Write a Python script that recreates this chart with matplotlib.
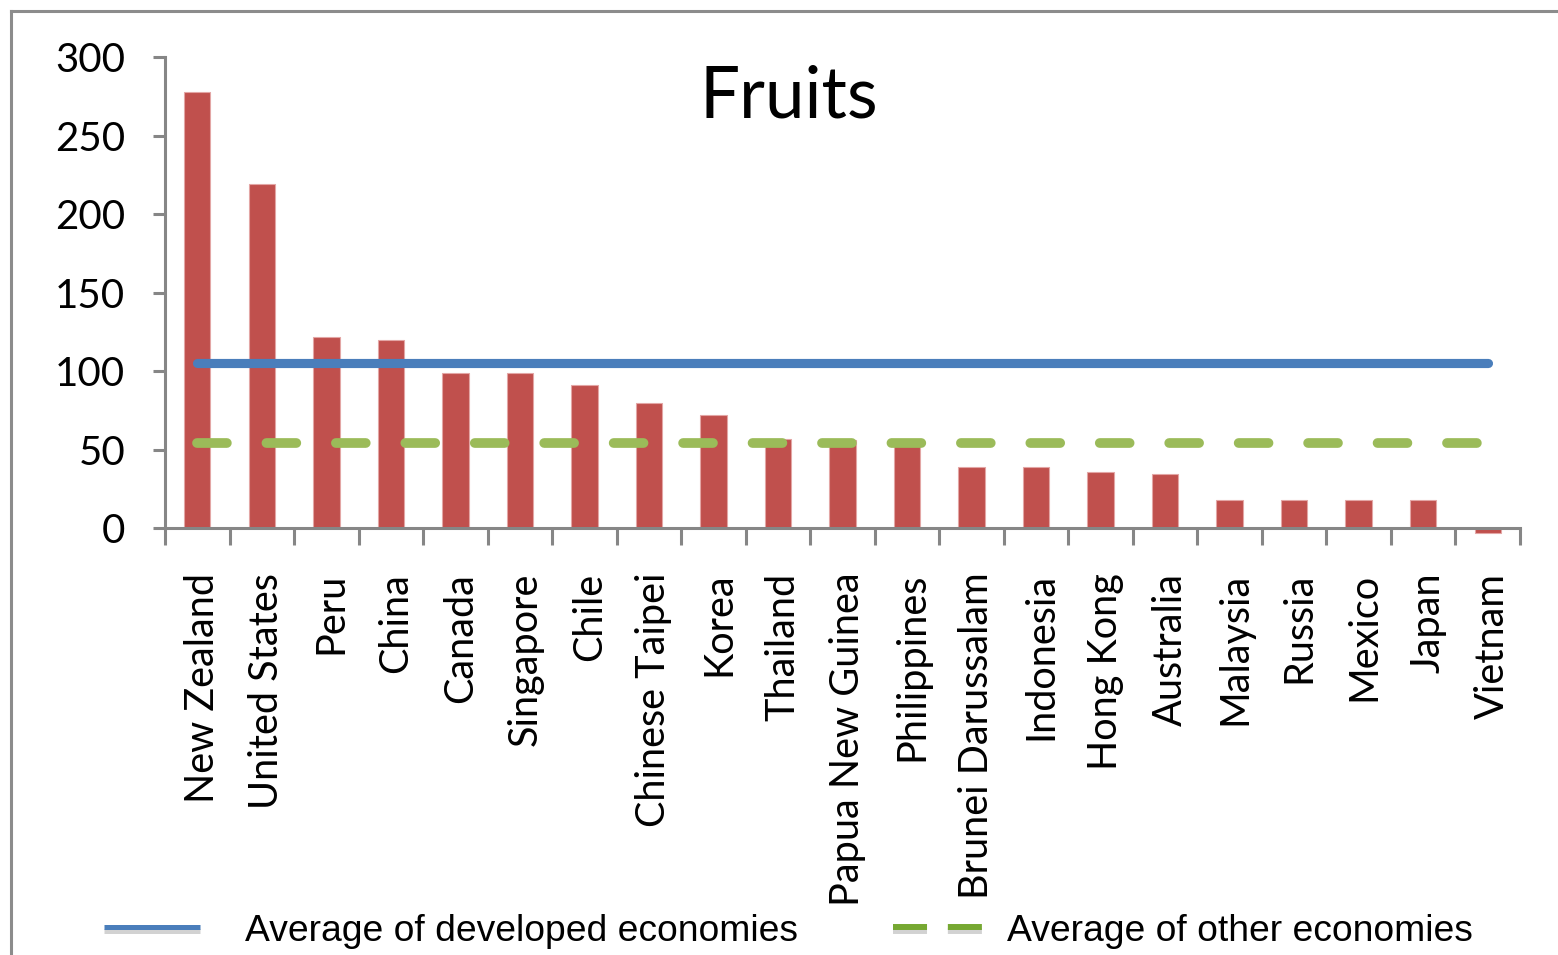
"""
Fruits - bar chart with two average lines
"""

from matplotlib import pyplot as plt
from matplotlib.lines import Line2D
import matplotlib.patheffects as pe
import matplotlib.transforms as mtransforms
import numpy as np

# data
countries = ['New Zealand', 'United States', 'Peru', 'China', 'Canada',
             'Singapore', 'Chile', 'Chinese Taipei', 'Korea', 'Thailand',
             'Papua New Guinea', 'Philippines', 'Brunei Darussalam',
             'Indonesia', 'Hong Kong', 'Australia', 'Malaysia', 'Russia',
             'Mexico', 'Japan', 'Vietnam']
values = [278, 219, 122, 120, 99, 99, 91, 80, 72, 57, 56, 56, 39, 39, 36,
          34.5, 18, 18, 18, 18, -3]
avg_developed = 105
avg_other = 54.5
y_ticks = [0, 50, 100, 150, 200, 250, 300]

plt.rcParams['lines.scale_dashes'] = False

W, H = 1558, 955
fig = plt.figure(figsize=(W / 100, H / 100), dpi=100)

# axes placement (pixel measurements from the reference)
left, right = 165 / W, 1520 / W
top = 1 - 57.3 / H
bottom = 1 - 547.1 / H
ax = fig.add_axes([left, bottom, right - left, top - bottom])

gray = '#868686'
x = np.arange(len(countries))

ax.bar(x, values, width=0.41, color='#C0504D', edgecolor='#E3A6A5',
       linewidth=0.8, zorder=2)
ax.plot(x, np.full(len(x), avg_developed), color='#4A7EBB', lw=6.6,
        solid_capstyle='round', zorder=3)
ax.plot(x, np.full(len(x), avg_other), color='#9BBB59', lw=7,
        dash_capstyle='round', dashes=(21.5, 28.5), zorder=3)

ax.set_xlim(-0.5, len(x) - 0.5)
ax.set_ylim(-12, 300)

# spines
for s in ['top', 'right']:
    ax.spines[s].set_visible(False)
ax.spines['left'].set_bounds(0, 300)
ax.spines['bottom'].set_position(('data', 0))
for s in ['left', 'bottom']:
    ax.spines[s].set_color(gray)
    ax.spines[s].set_linewidth(2.2)

# ticks
ax.set_yticks(y_ticks)
ax.tick_params(axis='y', length=8.6, width=2.2, color=gray, pad=20,
               labelsize=29)
ax.set_xticks(np.arange(-0.5, len(x)), labels=[])
ax.set_xticks(x, labels=countries, minor=True, rotation=90)
ax.tick_params(axis='x', which='major', length=12, width=2.2, color=gray)
ax.tick_params(axis='x', which='minor', length=0, pad=32, labelsize=28.5)
shift = mtransforms.ScaledTranslation(5 / 100, 0, fig.dpi_scale_trans)
for lab in ax.get_xticklabels(minor=True):
    lab.set_fontfamily('Lato')
    lab.set_transform(lab.get_transform() + shift)
for lab in ax.get_yticklabels():
    lab.set_fontfamily('Lato')

# title
fig.text(789 / W, 1 - 118 / H, 'Fruits', fontsize=51, family='Lato',
         ha='center', va='baseline')

# legend
shadow = [pe.SimpleLineShadow(offset=(0, -2.5), shadow_color='gray',
                              alpha=0.35), pe.Normal()]
h_dev = Line2D([], [], color='#4A7EBB', lw=3.6, solid_capstyle='butt',
               path_effects=shadow)
h_oth = Line2D([], [], color='#76A832', lw=4.3, dash_capstyle='butt',
               dashes=(24.5, 15), path_effects=shadow)
leg_font = {'family': 'Liberation Sans', 'size': 26.8}
fig.legend([h_dev], ['Average of developed economies'], loc='center left',
           bbox_to_anchor=(104 / W, 1 - 931 / H), frameon=False,
           borderpad=0, borderaxespad=0, handlelength=2.58,
           handletextpad=1.2, prop=leg_font)
fig.legend([h_oth], ['Average of other economies'], loc='center left',
           bbox_to_anchor=(893 / W, 1 - 931 / H), frameon=False,
           borderpad=0, borderaxespad=0, handlelength=2.4,
           handletextpad=0.67, prop=leg_font)

# outer chart frame (top and left edges visible)
fig.add_artist(Line2D([10.5 / W, 1.0], [1 - 11 / H, 1 - 11 / H],
                      color='#8C8C8C', lw=2.2, transform=fig.transFigure))
fig.add_artist(Line2D([10.5 / W, 10.5 / W], [1 - 11 / H, 0.0],
                      color='#8C8C8C', lw=2.2, transform=fig.transFigure))

fig.savefig('out.png', dpi=100)
